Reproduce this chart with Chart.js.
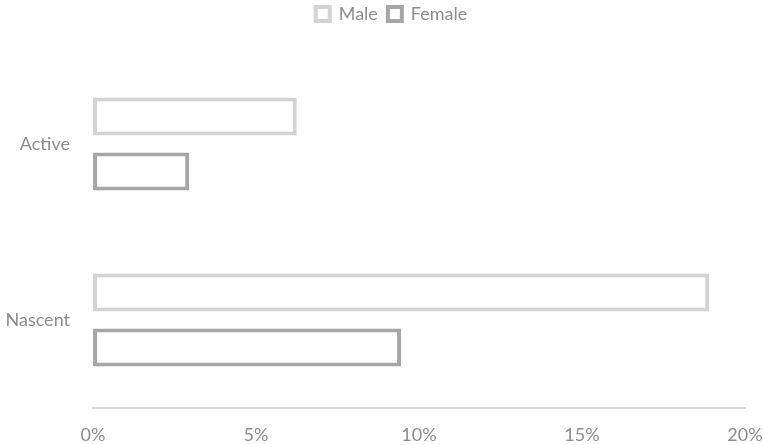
<!DOCTYPE html>
<html>
<head>
<meta charset="utf-8">
<script src="https://cdn.jsdelivr.net/npm/chart.js@4"></script>
<style>
  html, body { margin: 0; padding: 0; background: #fff; }
  #wrap { width: 763px; height: 445px; }
</style>
</head>
<body>
<div id="wrap"><canvas id="chart" width="763" height="445"></canvas></div>
<script>
const categories = ['Active', 'Nascent'];
const maleValues = [6.25, 18.9];
const femaleValues = [2.95, 9.45];
const tickValues = [0, 5, 10, 15, 20];

const textGray = '#8c8c8c';
const fontFamily = 'Lato, "Open Sans", sans-serif';

// fix the legend band height so the plot starts where the reference does
const legendHeight = {
  id: 'legendHeight',
  beforeInit(chart) {
    const fit = chart.legend.fit;
    chart.legend.fit = function () {
      fit.bind(chart.legend)();
      this.height = 56;
    };
  },
  // legend in the reference sits a bit right of centre and close to the top
  afterLayout(chart) {
    const lg = chart.legend;
    lg.left += 19;
    lg.right += 19;
    lg.top -= 5;
    lg.bottom -= 5;
  }
};

new Chart(document.getElementById('chart'), {
  type: 'bar',
  data: {
    labels: categories,
    datasets: [
      {
        label: 'Male',
        data: maleValues,
        backgroundColor: '#ffffff',
        borderColor: '#d3d3d3',
        borderWidth: 4,
        borderSkipped: false
      },
      {
        label: 'Female',
        data: femaleValues,
        backgroundColor: '#ffffff',
        borderColor: '#a6a6a6',
        borderWidth: 4,
        borderSkipped: false
      }
    ]
  },
  plugins: [legendHeight],
  options: {
    indexAxis: 'y',
    responsive: false,
    animation: false,
    categoryPercentage: 0.625,
    barPercentage: 0.69,
    layout: { padding: { left: 0, right: 18, top: 0, bottom: 0 } },
    plugins: {
      legend: {
        position: 'top',
        labels: {
          boxWidth: 14,
          boxHeight: 14,
          padding: 10,
          color: textGray,
          font: { family: fontFamily, size: 18 }
        }
      },
      tooltip: { enabled: false }
    },
    scales: {
      x: {
        min: 0,
        max: 20,
        afterBuildTicks: axis => { axis.ticks = tickValues.map(v => ({ value: v })); },
        afterFit: axis => {
          axis.height = 37;
          axis.paddingLeft = 0;
          axis.paddingRight = 0;
        },
        grid: { display: false, drawTicks: false },
        border: { display: true, color: '#d9d9d9', width: 2 },
        ticks: {
          color: textGray,
          font: { family: fontFamily, size: 18 },
          padding: 16,
          maxRotation: 0,
          callback: v => v + '%'
        }
      },
      y: {
        afterFit: axis => { axis.width = 93; },
        grid: { display: false, drawTicks: false },
        border: { display: false },
        ticks: {
          color: textGray,
          font: { family: fontFamily, size: 18 },
          padding: 23
        }
      }
    }
  }
});
</script>
</body>
</html>
